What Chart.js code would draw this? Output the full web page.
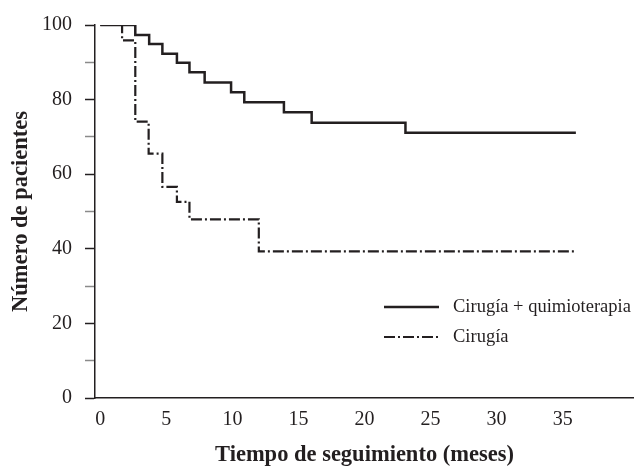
<!DOCTYPE html>
<html>
<head>
<meta charset="utf-8">
<script src="https://cdn.jsdelivr.net/npm/chart.js@4.4.1/dist/chart.umd.min.js"></script>
<style>
  html, body { margin: 0; padding: 0; background: #fff; }
  #wrap { width: 634px; height: 466px; }
</style>
</head>
<body>
<div id="wrap"><canvas id="km"></canvas></div>
<script>
// Kaplan-Meier style curves
const seriesNames = ['Cirugía + quimioterapia', 'Cirugía'];

const quimioMonths = [0, 2.65, 3.7, 4.7, 5.8, 6.75, 7.9, 9.9, 10.9, 13.9, 16, 23.1, 36];
const quimioValues = [100, 97.3, 94.9, 92.3, 89.9, 87.3, 84.6, 82.0, 79.3, 76.6, 73.8, 71.1, 71.1];

const cirugiaMonths = [0, 1.65, 2.65, 3.66, 4.7, 5.8, 6.75, 12, 36];
const cirugiaValues = [100, 95.9, 74.1, 65.5, 56.6, 52.6, 47.9, 39.3, 39.3];

const xTicks = [0, 5, 10, 15, 20, 25, 30, 35];

const toPoints = (xs, ys) => xs.map((x, i) => ({ x: x, y: ys[i] }));
const ink = '#231f20';
const serif = '"Liberation Serif", "Times New Roman", serif';

// legend drawn inside the plot area, like the original
const insideLegend = {
    id: 'insideLegend',
    afterDraw(chart, args, opts) {
        const ctx = chart.ctx;
        ctx.save();
        chart.data.datasets.forEach((ds, i) => {
            const y = opts.top + i * opts.rowGap;
            ctx.beginPath();
            ctx.strokeStyle = ds.borderColor;
            ctx.lineWidth = ds.borderWidth;
            ctx.setLineDash(ds.borderDash || []);
            ctx.moveTo(opts.left, y);
            ctx.lineTo(opts.left + opts.lineLength, y);
            ctx.stroke();
            ctx.setLineDash([]);
            ctx.fillStyle = ink;
            ctx.font = opts.font;
            ctx.textBaseline = 'middle';
            ctx.fillText(ds.label, opts.left + opts.lineLength + opts.textGap, y);
        });
        ctx.restore();
    }
};

const ctx = document.getElementById('km').getContext('2d');
new Chart(ctx, {
    type: 'line',
    data: {
        datasets: [{
            label: seriesNames[0],
            data: toPoints(quimioMonths, quimioValues),
            borderColor: ink,
            borderWidth: 2.5,
            stepped: 'before',
            pointRadius: 0,
            fill: false
        }, {
            label: seriesNames[1],
            data: toPoints(cirugiaMonths, cirugiaValues),
            borderColor: ink,
            borderWidth: 2.2,
            borderDash: [11, 3, 2, 3],
            stepped: 'before',
            pointRadius: 0,
            fill: false
        }]
    },
    options: {
        responsive: true,
        maintainAspectRatio: false,
        animation: false,
        layout: { padding: { top: 23, right: 0, left: 0, bottom: 0 } },
        scales: {
            x: {
                type: 'linear',
                min: -0.4,
                max: 40.4,
                afterBuildTicks: s => { s.ticks = xTicks.map(v => ({ value: v })); },
                afterFit: s => { s.height = 68; },
                border: { color: ink, width: 1.5 },
                grid: { display: false, drawTicks: false },
                ticks: {
                    color: ink,
                    padding: 10,
                    maxRotation: 0,
                    font: { family: serif, size: 20 }
                },
                title: {
                    display: true,
                    text: 'Tiempo de seguimiento (meses)',
                    color: ink,
                    padding: { top: 0, bottom: -3 },
                    font: { family: serif, size: 22.5, weight: 'bold' }
                }
            },
            y: {
                min: 0,
                max: 100,
                afterFit: s => { s.width = 95; },
                border: { color: ink, width: 1.5 },
                grid: {
                    drawOnChartArea: false,
                    tickLength: 10,
                    tickWidth: 1.5,
                    tickColor: c => (c.tick.value % 20 === 0 ? ink : '#8a8a8a')
                },
                ticks: {
                    stepSize: 10,
                    color: ink,
                    padding: 13,
                    font: { family: serif, size: 20 },
                    callback: v => (v % 20 === 0 ? v : '')
                },
                title: {
                    display: true,
                    text: 'Número de pacientes',
                    color: ink,
                    padding: { top: 8, bottom: 0 },
                    font: { family: serif, size: 22.5, weight: 'bold' }
                }
            }
        },
        plugins: {
            legend: { display: false },
            tooltip: { enabled: false },
            insideLegend: {
                left: 384,
                top: 307,
                rowGap: 30,
                lineLength: 55,
                textGap: 14,
                font: '18.5px ' + serif
            }
        }
    },
    plugins: [insideLegend]
});
</script>
</body>
</html>
